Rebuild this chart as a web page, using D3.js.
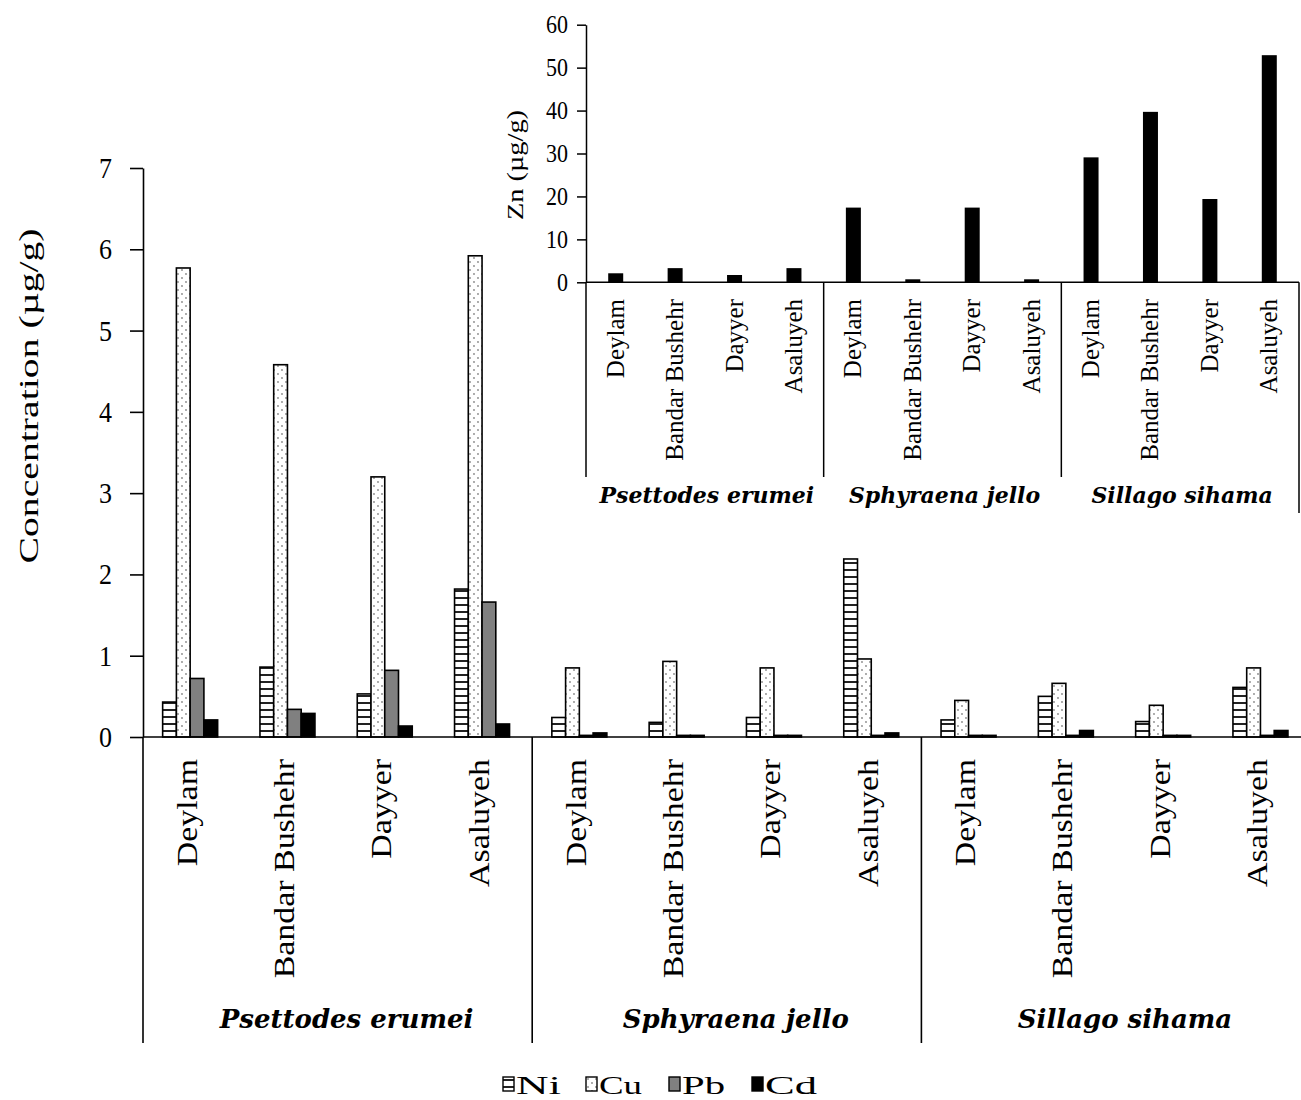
<!DOCTYPE html>
<html>
<head>
<meta charset="utf-8">
<title>Metal concentrations in fish</title>
<script src="https://cdn.jsdelivr.net/npm/d3@7"></script>
<style>
  body { margin: 0; background: #fff; }
  text { font-family: "Liberation Serif", "Times New Roman", serif; fill: #000; }
  .sp { font-family: "DejaVu Serif", serif; font-weight: bold; font-style: italic; }
</style>
</head>
<body>
<script>
// data
var species = ["Psettodes erumei", "Sphyraena jello", "Sillago sihama"];
var sites = ["Deylam", "Bandar Bushehr", "Dayyer", "Asaluyeh"];
var metals = ["Ni", "Cu", "Pb", "Cd"];
var ni = [0.43, 0.86, 0.53, 1.82, 0.24, 0.18, 0.24, 2.19, 0.21, 0.50, 0.19, 0.61];
var cu = [5.77, 4.58, 3.20, 5.92, 0.85, 0.93, 0.85, 0.96, 0.45, 0.66, 0.39, 0.85];
var pb = [0.72, 0.34, 0.82, 1.66, 0.02, 0.02, 0.02, 0.02, 0.02, 0.02, 0.02, 0.02];
var cd = [0.21, 0.29, 0.135, 0.16, 0.05, 0.02, 0.02, 0.05, 0.02, 0.08, 0.02, 0.08];
var zn = [2.1, 3.3, 1.7, 3.3, 17.4, 0.7, 17.4, 0.7, 29.1, 39.7, 19.4, 52.9];
var mainTicks = [0, 1, 2, 3, 4, 5, 6, 7];
var znTicks = [0, 10, 20, 30, 40, 50, 60];

var series = { Ni: ni, Cu: cu, Pb: pb, Cd: cd };
var cats = [];
species.forEach(function (s, g) {
  sites.forEach(function (site, k) { cats.push({ i: g * 4 + k, g: g, site: site }); });
});

var width = 1301, height = 1100;
var svg = d3.select("body").append("svg")
  .attr("width", width).attr("height", height);

// fill patterns
var defs = svg.append("defs");
var pNi = defs.append("pattern").attr("id", "pNi")
  .attr("patternUnits", "userSpaceOnUse").attr("width", 8).attr("height", 7);
pNi.append("rect").attr("width", 8).attr("height", 7).attr("fill", "#fff");
pNi.append("rect").attr("y", 2).attr("width", 8).attr("height", 2).attr("fill", "#222");
var pCu = defs.append("pattern").attr("id", "pCu")
  .attr("patternUnits", "userSpaceOnUse").attr("width", 8).attr("height", 8);
pCu.append("rect").attr("width", 8).attr("height", 8).attr("fill", "#fff");
pCu.append("circle").attr("cx", 2).attr("cy", 2).attr("r", 0.9).attr("fill", "#888");
pCu.append("circle").attr("cx", 6).attr("cy", 6).attr("r", 0.9).attr("fill", "#888");
var fills = { Ni: "url(#pNi)", Cu: "url(#pCu)", Pb: "#808080", Cd: "#000" };

// ---------- main chart ----------
var x = d3.scaleBand().domain(d3.range(12)).range([143, 1310.6]);
var xm = d3.scaleBand().domain(metals).range([-29, 26]);
var y = d3.scaleLinear().domain([0, 7]).range([737, 168]);

var yAxis = svg.append("g")
  .attr("transform", "translate(143,0)")
  .call(d3.axisLeft(y).tickValues(mainTicks).tickFormat(d3.format("d"))
    .tickSize(13).tickSizeOuter(0).tickPadding(18));
yAxis.selectAll("path, line").attr("stroke", "#000").attr("stroke-width", 1.6);
yAxis.selectAll("text")
  .style("font-family", "Liberation Serif")
  .attr("font-size", 26)
  .attr("transform", "scale(1,1.15)");

var cx = function (i) { return x(i) + x.bandwidth() / 2; };

var barG = svg.append("g");
metals.forEach(function (m) {
  barG.selectAll(".b" + m)
    .data(cats)
    .enter().append("rect")
    .attr("x", function (d) { return cx(d.i) + xm(m); })
    .attr("width", xm.bandwidth())
    .attr("y", function (d) { return y(series[m][d.i]); })
    .attr("height", function (d) { return y(0) - y(series[m][d.i]); })
    .attr("fill", fills[m])
    .attr("stroke", "#000")
    .attr("stroke-width", 1.6);
});

svg.append("line")
  .attr("x1", 143).attr("x2", 1310.6).attr("y1", y(0)).attr("y2", y(0))
  .attr("stroke", "#000").attr("stroke-width", 1.6);
[0, 4, 8].forEach(function (i) {
  svg.append("line")
    .attr("x1", x(i)).attr("x2", x(i)).attr("y1", y(0)).attr("y2", 1043)
    .attr("stroke", "#000").attr("stroke-width", 1.6);
});

svg.append("g").selectAll("text")
  .data(cats)
  .enter().append("text")
  .attr("transform", function (d) { return "translate(" + (cx(d.i) + 5) + ",759) rotate(-90) scale(1.13,1)"; })
  .attr("text-anchor", "end")
  .attr("font-size", 30)
  .text(function (d) { return d.site; });

svg.append("g").selectAll("text")
  .data(species)
  .enter().append("text")
  .attr("class", "sp")
  .attr("x", function (s, g) { return (x(g * 4) + x(g * 4 + 3) + x.bandwidth()) / 2 + 9; })
  .attr("y", 1028)
  .attr("text-anchor", "middle")
  .attr("font-size", 26)
  .text(function (s) { return s; });

svg.append("text")
  .attr("transform", "translate(38,396) rotate(-90)")
  .attr("text-anchor", "middle")
  .attr("font-size", 28)
  .attr("textLength", 335)
  .attr("lengthAdjust", "spacingAndGlyphs")
  .text("Concentration  (µg/g)");

// legend
var legW = [45, 43, 43, 52];
var leg = svg.append("g").selectAll("g")
  .data(metals)
  .enter().append("g")
  .attr("transform", function (m, i) { return "translate(" + (503 + i * 83) + ",1077)"; });
leg.append("rect")
  .attr("width", 11).attr("height", 14)
  .attr("fill", function (m) { return fills[m]; })
  .attr("stroke", "#000").attr("stroke-width", 1.4);
leg.append("text")
  .attr("x", 13).attr("y", 17)
  .attr("font-size", 26)
  .attr("textLength", function (m, i) { return legW[i]; })
  .attr("lengthAdjust", "spacingAndGlyphs")
  .text(function (m) { return m; });

// ---------- Zn inset ----------
var xi = d3.scaleBand().domain(d3.range(12)).range([586, 1299]);
var yi = d3.scaleLinear().domain([0, 60]).range([282.3, 24.7]);

var yiAxis = svg.append("g")
  .attr("transform", "translate(586,0)")
  .call(d3.axisLeft(yi).tickValues(znTicks).tickSize(9).tickSizeOuter(0).tickPadding(9));
yiAxis.selectAll("path, line").attr("stroke", "#000").attr("stroke-width", 1.5);
yiAxis.selectAll("text")
  .style("font-family", "Liberation Serif")
  .attr("font-size", 22)
  .attr("transform", "scale(1,1.1)");

var cxi = function (i) { return xi(i) + xi.bandwidth() / 2; };

svg.append("g").selectAll("rect")
  .data(cats)
  .enter().append("rect")
  .attr("x", function (d) { return cxi(d.i) - 7.5; })
  .attr("width", 15)
  .attr("y", function (d) { return yi(zn[d.i]); })
  .attr("height", function (d) { return yi(0) - yi(zn[d.i]); })
  .attr("fill", "#000");

svg.append("line")
  .attr("x1", 586).attr("x2", 1299).attr("y1", yi(0)).attr("y2", yi(0))
  .attr("stroke", "#000").attr("stroke-width", 1.5);
[0, 4, 8].forEach(function (i) {
  svg.append("line")
    .attr("x1", xi(i)).attr("x2", xi(i)).attr("y1", yi(0)).attr("y2", 477)
    .attr("stroke", "#000").attr("stroke-width", 1.5);
});
svg.append("line")
  .attr("x1", 1299).attr("x2", 1299).attr("y1", yi(0)).attr("y2", 513)
  .attr("stroke", "#000").attr("stroke-width", 1.5);

svg.append("g").selectAll("text")
  .data(cats)
  .enter().append("text")
  .attr("transform", function (d) { return "translate(" + (cxi(d.i) + 8) + ",299) rotate(-90)"; })
  .attr("text-anchor", "end")
  .attr("font-size", 25)
  .text(function (d) { return d.site; });

svg.append("g").selectAll("text")
  .data(species)
  .enter().append("text")
  .attr("class", "sp")
  .attr("x", function (s, g) { return (xi(g * 4) + xi(g * 4 + 3) + xi.bandwidth()) / 2 + 2; })
  .attr("y", 503)
  .attr("text-anchor", "middle")
  .attr("font-size", 22)
  .text(function (s) { return s; });

svg.append("text")
  .attr("transform", "translate(523,165) rotate(-90)")
  .attr("text-anchor", "middle")
  .attr("font-size", 24)
  .attr("textLength", 110)
  .attr("lengthAdjust", "spacingAndGlyphs")
  .text("Zn (µg/g)");
</script>
</body>
</html>
